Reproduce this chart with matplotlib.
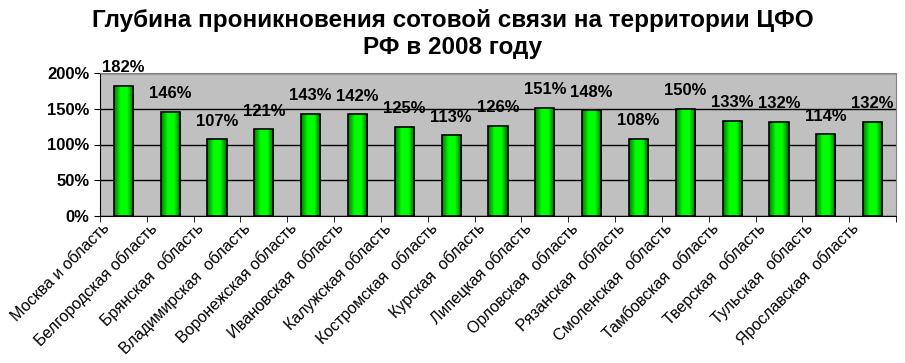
# Глубина проникновения сотовой связи, ЦФО 2008
import numpy as np
import matplotlib.pyplot as plt
import matplotlib.transforms as mtransforms
from matplotlib.colors import LinearSegmentedColormap

plt.rcParams['font.family'] = ['Liberation Sans', 'DejaVu Sans']

regions = ['Москва и область', 'Белгородская область', 'Брянская  область',
           'Владимирская  область', 'Воронежская область', 'Ивановская  область',
           'Калужская область', 'Костромская  область', 'Курская  область',
           'Липецкая область', 'Орловская  область', 'Рязанская  область',
           'Смоленская  область', 'Тамбовская  область', 'Тверская  область',
           'Тульская  область', 'Ярославская  область']
values = [182, 146, 107, 121, 143, 142, 125, 113, 126, 151, 148, 108, 150, 133, 132, 114, 132]
yticks = [0, 50, 100, 150, 200]

fig = plt.figure(figsize=(9.05, 3.63), dpi=100)
ax = fig.add_axes([100 / 905, 1 - 216 / 363, 796 / 905, 143 / 363])
ax.set_facecolor('#C0C0C0')

x = np.arange(len(values))
width = 0.41
bars = ax.bar(x, values, width=width, color='none', edgecolor='black', linewidth=1.2, zorder=3)

# horizontal green gradient inside each bar
cmap = LinearSegmentedColormap.from_list('g', ['#007a00', '#00ff00', '#00ff00', '#006400'])
grad = np.linspace(0, 1, 64).reshape(1, -1)
for b in bars:
    x0, w, h = b.get_x(), b.get_width(), b.get_height()
    im = ax.imshow(grad, cmap=cmap, aspect='auto', extent=(x0, x0 + w, 0, h), zorder=2)
    im.set_clip_path(b)

for xi, v in zip(x, values):
    ax.annotate(f'{v}%', (xi, v), xytext=(0, 13), textcoords='offset points',
                ha='center', va='center', fontsize=12, fontweight='bold', zorder=4)

ax.set_xlim(-0.5, len(values) - 0.5)
ax.set_ylim(0, 200)
ax.set_yticks(yticks)
ax.set_yticklabels([f'{t}%' for t in yticks], fontsize=12, fontweight='bold')
ax.yaxis.grid(True, color='black', linewidth=1)
ax.set_axisbelow(True)

ax.set_xticks(x)
ax.set_xticklabels(regions, rotation=45, ha='right', va='center', rotation_mode='anchor', fontsize=11.5)
ax.set_xticks(np.arange(len(values) + 1) - 0.5, minor=True)
ax.tick_params(axis='x', which='major', length=0)
ax.tick_params(axis='x', which='minor', length=4, direction='out')
ax.tick_params(axis='y', length=4, direction='out')
offset = mtransforms.ScaledTranslation(-16 / 100, -5 / 100, fig.dpi_scale_trans)
for lab in ax.get_xticklabels():
    lab.set_transform(lab.get_transform() + offset)

for s in ['top', 'right']:
    ax.spines[s].set_color('#808080')
for s in ['left', 'bottom']:
    ax.spines[s].set_color('black')

fig.text(0.5, 1 - 34 / 363, 'Глубина проникновения сотовой связи на территории ЦФО\nРФ в 2008 году',
         ha='center', va='center', fontsize=17.5, fontweight='bold', linespacing=1.2)

plt.savefig('out.png', dpi=100)
